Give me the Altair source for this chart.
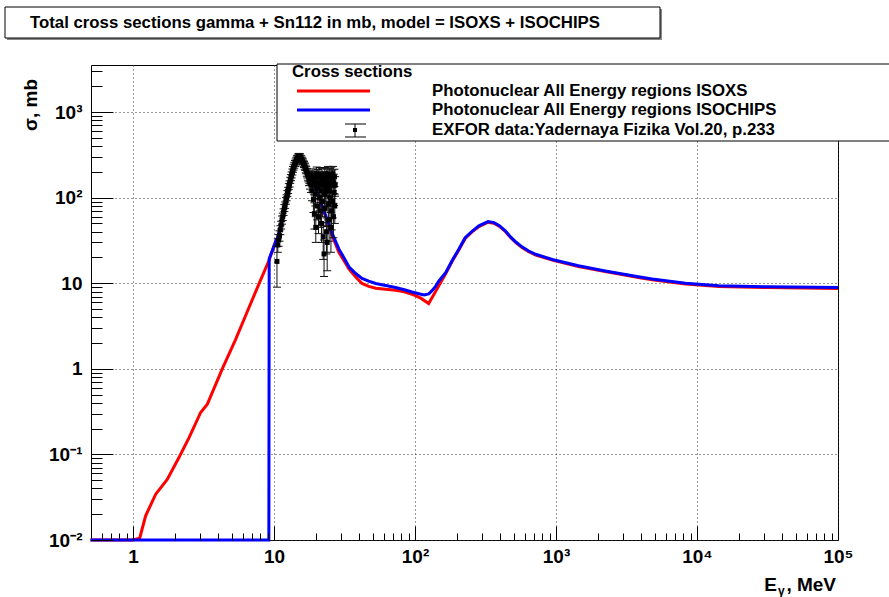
import json
import altair as alt
import pandas as pd

W, H = 747, 475
FONT = "Liberation Sans"

# ---------------- data ----------------
isoxs_e = [0.5, 1.0, 1.116, 1.23, 1.45, 1.75, 2.12, 2.50, 3.02, 3.37, 4.30, 5.34, 6.3, 7.8, 9.2,
           10.3, 10.6, 11.2, 11.8, 12.3, 12.8, 13.3, 13.8, 14.4, 15.0, 15.5, 16.0, 16.6, 17.2, 18.5,
           19.8, 21.2, 22.7, 24.3, 25.9, 28.9, 31, 34.1, 38, 42.1, 47, 52.7, 62, 72.8, 84, 95.3,
           110, 125, 140, 165, 184, 205, 227, 254, 284, 330, 363, 397, 437, 478, 522, 574, 640,
           718, 956, 1443, 2235, 3840, 4812, 8300, 14300, 32000, 100000]
isoxs_s = [0.01, 0.01, 0.0105, 0.0192, 0.0343, 0.051, 0.092, 0.157, 0.309, 0.387, 1.0, 2.2, 4.2, 9.7, 18.3,
           31, 34, 48, 67, 95, 125, 165, 214, 250, 268, 270, 258, 235, 206, 160,
           126, 92, 67, 49, 36, 22.9, 19, 14.6, 11.8, 9.95, 9.2, 8.76, 8.5, 8.3, 7.95, 7.45,
           6.7, 5.8, 8.0, 12.9, 18.2, 24.6, 33.4, 39.8, 46.0, 51.7, 50.2, 46.2, 40.3, 34.0, 29.6, 26.1, 23.4,
           21.4, 18.5, 15.7, 13.7, 11.7, 11.0, 9.8, 9.15, 8.9, 8.7]

isochips_e = [0.5, 9.2, 9.25, 10.3, 10.6, 11.2, 11.8, 12.3, 12.8, 13.3, 13.8, 14.4, 15.0, 15.5, 16.0,
              16.6, 17.2, 18.5, 19.8, 21.2, 22.7, 24.3, 25.9, 28.9, 31, 34.1, 38, 42.1, 47, 52.7, 62,
              72.8, 84, 95.3, 110, 116, 125, 132, 140, 147, 165, 184, 205, 227, 254, 284, 330, 363,
              397, 437, 478, 522, 574, 640, 718, 956, 1443, 2235, 3840, 4812, 8300, 14300, 32000, 100000]
isochips_s = [0.01, 0.01, 19.3, 31, 34, 48, 67, 95, 125, 165, 214, 250, 268, 270, 258,
              235, 206, 160, 127, 94, 69, 51, 38, 25, 20.5, 15.5, 13, 11.4, 10.6, 9.95, 9.4,
              8.9, 8.4, 7.9, 7.45, 7.3, 7.5, 8.2, 9.2, 10.5, 13.3, 18.6, 25.1, 34.0, 40.5, 46.8, 52.6, 51.1,
              47.0, 41.0, 34.6, 30.1, 26.6, 23.8, 21.8, 18.8, 16.0, 13.9, 11.9, 11.2, 10.0, 9.35, 9.1, 8.9]

exfor_e = [10.50, 10.65, 10.80, 10.95, 11.10, 11.25, 11.40, 11.55, 11.70, 11.85, 12.00, 12.15, 12.30,
           12.45, 12.60, 12.75, 12.90, 13.05, 13.20, 13.35, 13.50, 13.65, 13.80, 13.95, 14.10, 14.25,
           14.40, 14.55, 14.70, 14.85, 15.00, 15.15, 15.30, 15.45, 15.60, 15.75, 15.90, 16.05, 16.20,
           16.35, 16.50, 16.65, 16.80, 16.95, 17.10, 17.25, 17.40, 17.55, 17.70, 17.85, 18.00, 18.15,
           18.30, 18.45, 18.60, 18.75, 18.90, 19.05, 19.20, 19.35, 19.50, 19.65, 19.80, 19.95, 20.10,
           20.25, 20.40, 20.55, 20.70, 20.85, 21.00, 21.15, 21.30, 21.45, 21.60, 21.75, 21.90, 22.05,
           22.20, 22.35, 22.50, 22.65, 22.80, 22.95, 23.10, 23.25, 23.40, 23.55, 23.70, 23.85, 24.00,
           24.15, 24.30, 24.45, 24.60, 24.75, 24.90, 25.05, 25.20, 25.35, 25.50, 25.65, 25.80, 25.95,
           26.10, 26.25, 26.40, 26.55, 26.70, 26.85, 27.00, 27.15]
exfor_s = [18, 28, 32, 36, 42, 48, 55, 60, 68, 76, 82, 92, 100,
           112, 122, 135, 145, 160, 172, 185, 200, 215, 228, 240, 252, 262,
           275, 285, 290, 300, 305, 298, 302, 290, 285, 275, 268, 262, 250,
           245, 235, 228, 215, 210, 198, 190, 182, 175, 160, 170, 150, 165,
           140, 175, 120, 150, 185, 95, 140, 65, 170, 110, 45, 150, 190,
           80, 130, 175, 60, 145, 100, 185, 70, 160, 120, 50, 180, 90,
           140, 35, 165, 22, 110, 185, 75, 150, 125, 40, 175, 30, 135,
           190, 85, 160, 55, 120, 180, 100, 155, 45, 185, 70, 140, 170,
           90, 190, 60, 150, 115, 175, 80, 140]
exfor_err = [9, 5, 5, 5, 5, 5, 6, 6, 6, 7, 7, 8, 8,
             9, 10, 11, 12, 13, 14, 15, 16, 17, 18, 19, 20, 21,
             22, 23, 23, 24, 24, 24, 24, 23, 23, 22, 22, 21, 20,
             20, 20, 20, 20, 20, 20, 20, 22, 22, 22, 24, 24, 25,
             25, 28, 28, 30, 32, 28, 32, 22, 35, 30, 15, 35, 38,
             25, 32, 38, 22, 35, 30, 40, 25, 38, 32, 20, 40, 30,
             35, 16, 38, 10, 32, 40, 28, 36, 34, 18, 40, 16, 36,
             42, 30, 38, 24, 34, 40, 32, 38, 22, 42, 28, 36, 40,
             32, 42, 26, 38, 34, 40, 30, 36]

x_major = [1, 10, 100, 1000, 10000, 100000]
x_labels = ["1", "10", "10²", "10³", "10⁴", "10⁵"]
y_major = [0.01, 0.1, 1, 10, 100, 1000]
y_labels = ["10⁻²", "10⁻¹", "1", "10", "10²", "10³"]
x_minor = [0.6, 0.7, 0.8, 0.9] + [m * 10 ** k for k in range(0, 5) for m in range(2, 10)]
y_minor = [m * 10.0 ** k for k in range(-2, 4) for m in range(2, 10) if m * 10.0 ** k < 3500]

title_text = "Total cross sections gamma + Sn112 in mb, model = ISOXS + ISOCHIPS"
legend_header = "Cross sections"
legend_names = ["Photonuclear All Energy regions ISOXS",
                "Photonuclear All Energy regions ISOCHIPS",
                "EXFOR data:Yadernaya Fizika Vol.20, p.233"]

# ---------------- scales ----------------
xscale = alt.Scale(type="log", domain=[0.504, 100000], nice=False)
yscale = alt.Scale(type="log", domain=[0.01, 3550], nice=False)

CAP = 1.0675  # half-width of the error-bar caps, as a factor in energy (about 4 px)
red_df = pd.DataFrame({"e": isoxs_e, "s": isoxs_s})
blue_df = pd.DataFrame({"e": isochips_e, "s": isochips_s})
ex_df = pd.DataFrame({"e": exfor_e, "s": exfor_s, "err": exfor_err})
ex_df["lo"] = ex_df["s"] - ex_df["err"]
ex_df["hi"] = ex_df["s"] + ex_df["err"]
ex_df["c1"] = ex_df["e"] / CAP
ex_df["c2"] = ex_df["e"] * CAP

xl = json.dumps(x_labels, ensure_ascii=False).replace('"', "'")
yl = json.dumps(y_labels, ensure_ascii=False).replace('"', "'")

x_axis = alt.Axis(orient="bottom", values=x_major, grid=True, ticks=False, domain=False,
                  labelExpr=f"{xl}[round(log(datum.value)/LN10)]",
                  labelFont=FONT, labelFontWeight="bold", labelFontSize=19,
                  labelColor="black", labelPadding=7, labelFlush=False,
                  gridDash=[1, 3], gridColor="#333", gridWidth=1, title=None)
y_axis = alt.Axis(orient="left", values=y_major, grid=True, ticks=False, domain=False,
                  labelExpr=f"{yl}[round(log(datum.value)/LN10)+2]",
                  labelFont=FONT, labelFontWeight="bold", labelFontSize=19,
                  labelColor="black", labelPadding=9, labelFlush=False,
                  gridDash=[1, 3], gridColor="#333", gridWidth=1, title=None)


def inner_ticks(orient, vals, size):
    # an axis that carries only ticks, moved onto the opposite edge so its ticks point inward
    return alt.Axis(orient=orient, offset=-(H if orient == "top" else W), values=vals,
                    tickSize=size, ticks=True, tickColor="black", tickWidth=1,
                    labels=False, domain=False, grid=False, title=None, zindex=1)


red = alt.Chart(red_df).mark_line(color="#ff0000", strokeWidth=3).encode(
    x=alt.X("e:Q", scale=xscale, axis=x_axis),
    y=alt.Y("s:Q", scale=yscale, axis=y_axis),
)
blue = alt.Chart(blue_df).mark_line(color="#0000ff", strokeWidth=3).encode(
    x=alt.X("e:Q", scale=xscale, axis=None),
    y=alt.Y("s:Q", scale=yscale, axis=None),
)
ebars = alt.Chart(ex_df).mark_rule(color="#111", strokeWidth=1).encode(
    x=alt.X("e:Q", scale=xscale, axis=None), y=alt.Y("lo:Q", scale=yscale, axis=None), y2="hi:Q")
cap_lo = alt.Chart(ex_df).mark_rule(color="#111", strokeWidth=1).encode(
    x=alt.X("c1:Q", scale=xscale, axis=None), x2="c2:Q", y=alt.Y("lo:Q", scale=yscale, axis=None))
cap_hi = alt.Chart(ex_df).mark_rule(color="#111", strokeWidth=1).encode(
    x=alt.X("c1:Q", scale=xscale, axis=None), x2="c2:Q", y=alt.Y("hi:Q", scale=yscale, axis=None))
pts = alt.Chart(ex_df).mark_square(color="black", size=25, opacity=1).encode(
    x=alt.X("e:Q", scale=xscale, axis=None), y=alt.Y("s:Q", scale=yscale, axis=None))

# invisible layers that carry the inward tick axes
tick_carriers = [
    alt.Chart(pd.DataFrame({"v": x_minor})).mark_point(opacity=0, size=1).encode(
        x=alt.X("v:Q", scale=xscale, axis=inner_ticks("top", x_minor, 7))),
    alt.Chart(pd.DataFrame({"v": x_major})).mark_point(opacity=0, size=1).encode(
        x=alt.X("v:Q", scale=xscale, axis=inner_ticks("top", x_major, 14))),
    alt.Chart(pd.DataFrame({"v": y_minor})).mark_point(opacity=0, size=1).encode(
        y=alt.Y("v:Q", scale=yscale, axis=inner_ticks("right", y_minor, 11))),
    alt.Chart(pd.DataFrame({"v": y_major})).mark_point(opacity=0, size=1).encode(
        y=alt.Y("v:Q", scale=yscale, axis=inner_ticks("right", y_major, 22))),
]

one = pd.DataFrame({"k": [0]})


def rect(x, x2, y, y2, **kw):
    return alt.Chart(one).mark_rect(**kw).encode(
        x=alt.value(x), x2=alt.value(x2), y=alt.value(y), y2=alt.value(y2))


def text(t, x, y, size=14, align="left", **kw):
    return alt.Chart(one).mark_text(text=t, font=FONT, fontWeight="bold", fontSize=size,
                                    align=align, baseline="middle", color="black", **kw).encode(
        x=alt.value(x), y=alt.value(y))


# title box (with shadow)
title_layers = [
    rect(-84, 571, -56, -25, fill="#888"),
    rect(-86, 569, -58, -27, fill="white", stroke="black", strokeWidth=1),
    text(title_text, -61, -42, size=16.8),
]

# legend box
legend_layers = [
    rect(186, 810, -1, 76, fill="white", stroke="black", strokeWidth=1),
    text(legend_header, 201, 7, size=16.8),
    rect(206, 279, 24.5, 27.5, fill="#ff0000"),
    text(legend_names[0], 341, 26, size=16.8),
    rect(206, 279, 43.5, 46.5, fill="#0000ff"),
    text(legend_names[1], 341, 45, size=16.8),
    rect(263.5, 264.5, 59, 72, fill="black"),
    rect(254, 275, 58.5, 59.5, fill="black"),
    rect(254, 275, 71.5, 72.5, fill="black"),
    rect(262, 266, 63, 67, fill="black"),
    text(legend_names[2], 341, 65, size=16.8),
]

# axis titles
axis_title_layers = [
    text("σ, mb", -60, 40, size=19, align="center", angle=270),
    text("E", 686, 520, size=19, align="right"),
    text("γ", 687, 526, size=12, align="left"),
    text(", MeV", 745, 520, size=19, align="right"),
]

chart = alt.layer(
    red, blue, ebars, cap_lo, cap_hi, pts, *tick_carriers,
    *legend_layers, *title_layers, *axis_title_layers,
).properties(
    width=W, height=H,
    autosize=alt.AutoSizeParams(type="none"),
    padding={"left": 91, "top": 65, "right": 51, "bottom": 57},
    background="white",
).configure_view(stroke="black", strokeWidth=1)

chart.save("out.html", embed_options={"renderer": "svg", "actions": False})
